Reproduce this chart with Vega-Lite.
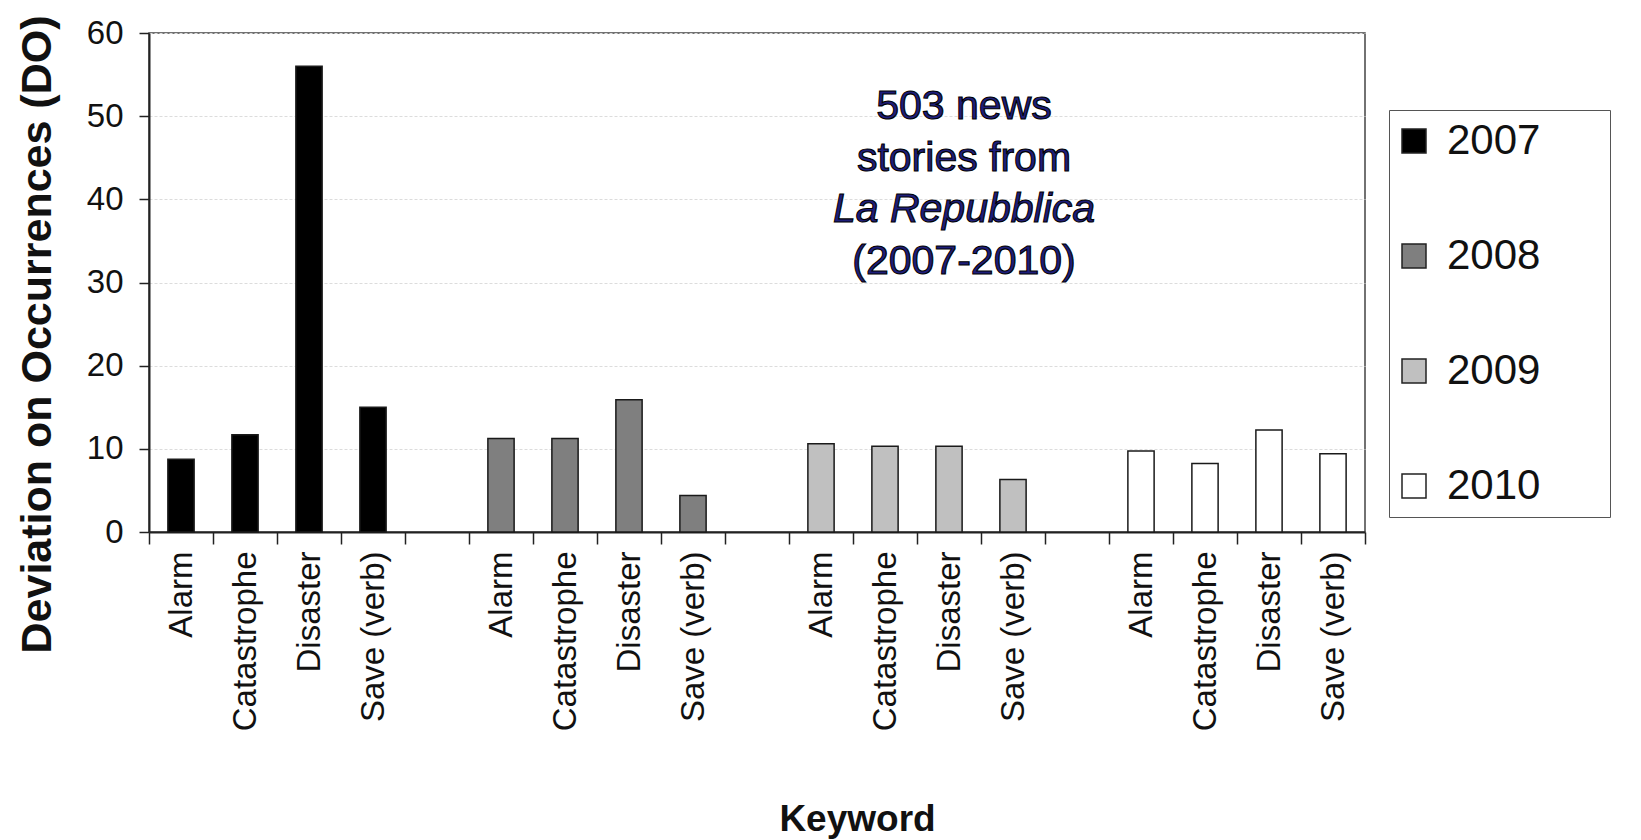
{
  "$schema": "https://vega.github.io/schema/vega-lite/v6.json",
  "width": 1216,
  "height": 499,
  "autosize": {"type": "none"},
  "padding": {"left": 149, "top": 33, "right": 276, "bottom": 308},
  "background": "white",
  "config": {
    "font": "Liberation Sans",
    "view": {"stroke": "#444", "strokeWidth": 1.5}
  },
  "datasets": {
    "bars": [
      {"slot": "2007|Alarm", "year": "2007", "value": 8.75},
      {"slot": "2007|Catastrophe", "year": "2007", "value": 11.7},
      {"slot": "2007|Disaster", "year": "2007", "value": 56},
      {"slot": "2007|Save (verb)", "year": "2007", "value": 15},
      {"slot": "2008|Alarm", "year": "2008", "value": 11.25},
      {"slot": "2008|Catastrophe", "year": "2008", "value": 11.25},
      {"slot": "2008|Disaster", "year": "2008", "value": 15.9},
      {"slot": "2008|Save (verb)", "year": "2008", "value": 4.4},
      {"slot": "2009|Alarm", "year": "2009", "value": 10.6},
      {"slot": "2009|Catastrophe", "year": "2009", "value": 10.3},
      {"slot": "2009|Disaster", "year": "2009", "value": 10.3},
      {"slot": "2009|Save (verb)", "year": "2009", "value": 6.3},
      {"slot": "2010|Alarm", "year": "2010", "value": 9.75},
      {"slot": "2010|Catastrophe", "year": "2010", "value": 8.25},
      {"slot": "2010|Disaster", "year": "2010", "value": 12.25},
      {"slot": "2010|Save (verb)", "year": "2010", "value": 9.4}
    ],
    "note": [
      {"slot": "2009|Disaster", "line": "503 news", "value": 51.1, "italic": "no"},
      {"slot": "2009|Disaster", "line": "stories from", "value": 44.9, "italic": "no"},
      {"slot": "2009|Disaster", "line": "La Repubblica", "value": 38.7, "italic": "yes"},
      {"slot": "2009|Disaster", "line": "(2007-2010)", "value": 32.5, "italic": "no"}
    ]
  },
  "encoding": {
    "x": {
      "field": "slot",
      "type": "nominal",
      "scale": {
        "domain": ["2007|Alarm", "2007|Catastrophe", "2007|Disaster", "2007|Save (verb)", "g1",
                   "2008|Alarm", "2008|Catastrophe", "2008|Disaster", "2008|Save (verb)", "g2",
                   "2009|Alarm", "2009|Catastrophe", "2009|Disaster", "2009|Save (verb)", "g3",
                   "2010|Alarm", "2010|Catastrophe", "2010|Disaster", "2010|Save (verb)"],
        "paddingInner": 0,
        "paddingOuter": 0
      },
      "axis": {
        "title": "Keyword",
        "labelExpr": "isString(datum.value) && length(datum.value) > 4 ? substring(datum.value, 5) : ''",
        "labelAngle": -90,
        "labelFontSize": 33,
        "labelColor": "#111",
        "labelPadding": 7,
        "labelLimit": 400,
        "tickBand": "extent",
        "tickSize": 12,
        "tickWidth": 1.5,
        "tickColor": "#222",
        "domainColor": "#222",
        "domainWidth": 2,
        "grid": false,
        "titleFontSize": 37,
        "titleFontWeight": "bold",
        "titleColor": "#111",
        "titleX": 708,
        "titleY": 287,
        "titleAlign": "center",
        "titleBaseline": "middle"
      }
    },
    "y": {
      "field": "value",
      "type": "quantitative",
      "scale": {"domain": [0, 60], "nice": false},
      "axis": {
        "title": "Deviation on Occurrences (DO)",
        "values": [0, 10, 20, 30, 40, 50, 60],
        "labelFontSize": 33,
        "labelColor": "#111",
        "labelPadding": 16,
        "tickSize": 10,
        "tickWidth": 1.5,
        "tickColor": "#222",
        "domainColor": "#222",
        "domainWidth": 2,
        "grid": true,
        "gridColor": "#dcdcdc",
        "gridDash": [3, 2],
        "titleFontSize": 43,
        "titleFontWeight": "bold",
        "titleColor": "#111",
        "titleX": -112,
        "titleY": 301,
        "titleAlign": "center",
        "titleBaseline": "middle"
      }
    }
  },
  "layer": [
    {
      "data": {"name": "bars"},
      "mark": {"type": "bar", "stroke": "#1a1a1a", "strokeWidth": 1.5, "width": {"band": 0.41}},
      "encoding": {
        "fill": {
          "field": "year",
          "type": "nominal",
          "scale": {"domain": ["2007", "2008", "2009", "2010"], "range": ["#000000", "#7f7f7f", "#c0c0c0", "#ffffff"]},
          "legend": {
            "orient": "none",
            "legendX": 1240,
            "legendY": 77,
            "title": "\u2800\u2800",
            "titleOrient": "right",
            "titleColor": "white",
            "titleFontSize": 36,
            "titlePadding": 8,
            "symbolType": "square",
            "symbolSize": 576,
            "symbolOffset": -6,
            "symbolStrokeColor": "#222",
            "symbolStrokeWidth": 1.5,
            "labelFontSize": 42,
            "labelColor": "#111",
            "labelOffset": 12,
            "labelLimit": 400,
            "rowPadding": 73,
            "padding": 10,
            "strokeColor": "#555",
            "fillColor": "white"
          }
        }
      }
    },
    {
      "data": {"name": "note"},
      "transform": [{"filter": "datum.italic == 'no'"}],
      "mark": {"type": "text", "fontSize": 41, "fill": "#1e1e7a", "stroke": "#000", "strokeWidth": 1.1, "align": "center", "baseline": "middle", "dx": 15},
      "encoding": {
        "text": {"field": "line"}
      }
    },
    {
      "data": {"name": "note"},
      "transform": [{"filter": "datum.italic == 'yes'"}],
      "mark": {"type": "text", "fontSize": 41, "fontStyle": "italic", "fill": "#1e1e7a", "stroke": "#000", "strokeWidth": 1.1, "align": "center", "baseline": "middle", "dx": 15},
      "encoding": {
        "text": {"field": "line"}
      }
    }
  ]
}
